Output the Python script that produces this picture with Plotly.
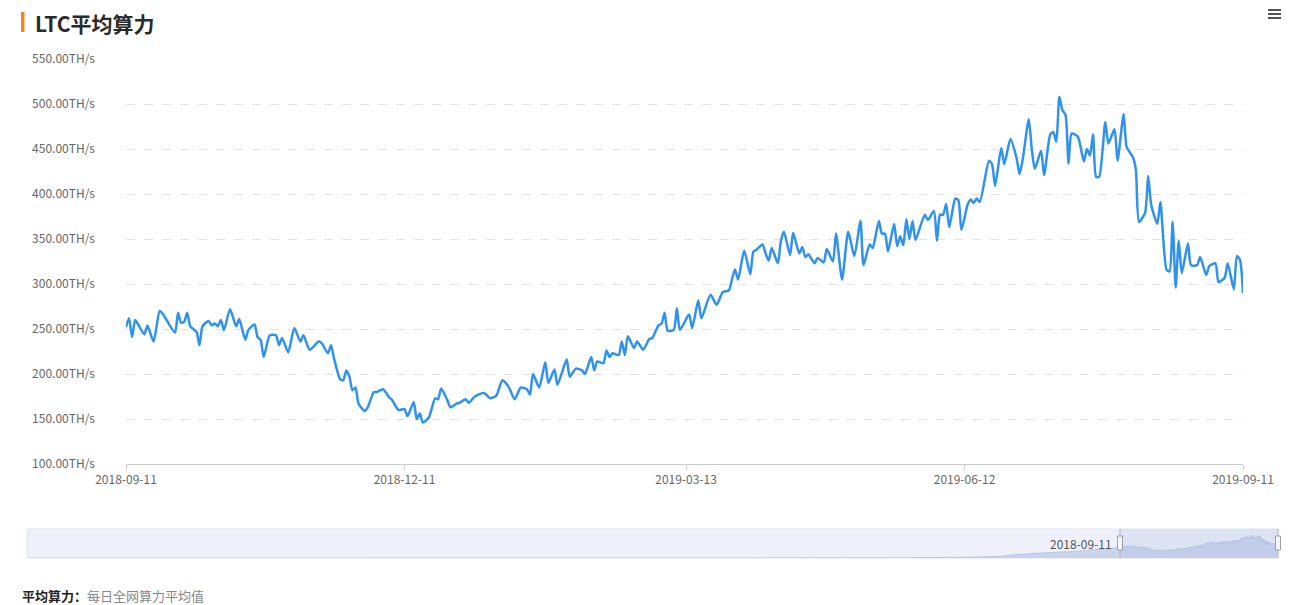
import pandas as pd
import plotly.graph_objects as go

# ---------------- data ----------------
START_DATE = "2018-09-11"
END_DATE = "2019-09-11"

day_offsets = [
    0, 1, 2, 3, 4, 6, 7, 9, 11, 12, 16, 17, 18, 19, 20, 21, 23, 24, 25, 27,
    28, 29, 30, 31, 32, 34, 36, 37, 39, 40, 42, 43, 44, 45, 47, 49, 50, 51, 53, 55,
    57, 58, 60, 63, 64, 66, 67, 68, 70, 71, 72, 73, 74, 75, 76, 78, 79, 81, 82, 84,
    86, 87, 89, 91, 92, 94, 95, 96, 97, 99, 101, 102, 103, 105, 106, 108, 109, 111, 112, 114,
    117, 119, 121, 123, 125, 127, 129, 131, 132, 133, 135, 137, 138, 140, 141, 144, 145, 147, 149, 150,
    152, 153, 154, 156, 157, 158, 159, 161, 162, 163, 164, 166, 167, 169, 171, 172, 174, 175, 176, 177,
    179, 180, 181, 184, 185, 187, 188, 191, 193, 195, 197, 198, 199, 200, 202, 204, 205, 206, 208, 209,
    210, 211, 213, 214, 215, 217, 218, 220, 221, 222, 223, 225, 226, 228, 229, 231, 232, 234, 236, 238,
    240, 241, 243, 244, 246, 247, 248, 249, 251, 252, 253, 254, 255, 256, 257, 258, 261, 262, 264, 265,
    266, 267, 268, 269, 271, 272, 273, 275, 276, 277, 278, 279, 282, 283, 284, 286, 287, 289, 291, 292,
    293, 295, 296, 297, 299, 300, 302, 303, 304, 305, 306, 307, 308, 309, 311, 313, 314, 315, 316, 317,
    318, 320, 321, 323, 324, 326, 327, 329, 330, 331, 333, 334, 335, 337, 338, 340, 341, 342, 343, 344,
    345, 347, 348, 350, 351, 353, 354, 356, 357, 359, 360, 362, 363, 364, 365,
]

hashrate_ths = [
    252, 262, 241, 260, 255, 244, 254, 236, 270, 267, 246, 268, 257, 258, 268, 253, 247, 232, 253, 259,
    254, 256, 253, 260, 249, 272, 253, 261, 238, 249, 255, 241, 238, 219, 243, 243, 232, 240, 224, 251,
    236, 243, 227, 236, 234, 223, 232, 217, 194, 193, 204, 197, 182, 185, 167, 159, 163, 180, 180, 183,
    174, 171, 160, 161, 153, 169, 150, 156, 146, 152, 173, 172, 184, 171, 163, 167, 168, 172, 168, 175,
    179, 173, 176, 193, 186, 172, 185, 183, 177, 200, 185, 213, 190, 205, 188, 216, 197, 206, 204, 200,
    219, 204, 214, 212, 226, 219, 223, 221, 236, 221, 242, 229, 236, 227, 239, 240, 254, 256, 268, 248,
    249, 273, 249, 266, 251, 282, 262, 288, 277, 291, 293, 305, 316, 305, 337, 311, 336, 338, 344, 334,
    326, 340, 323, 348, 358, 332, 357, 334, 341, 330, 333, 323, 329, 324, 339, 325, 356, 305, 358, 331,
    370, 321, 344, 340, 370, 356, 356, 336, 367, 342, 353, 343, 372, 350, 370, 349, 377, 371, 381, 348,
    377, 377, 389, 363, 395, 393, 360, 388, 394, 390, 395, 391, 437, 433, 409, 451, 433, 461, 440, 422,
    438, 483, 449, 428, 448, 421, 466, 469, 458, 508, 493, 488, 434, 467, 464, 436, 450, 443, 466, 419,
    419, 480, 456, 472, 437, 489, 452, 441, 427, 369, 379, 420, 388, 367, 391, 316, 314, 369, 296, 348,
    312, 345, 321, 321, 330, 310, 320, 323, 302, 307, 323, 294, 331, 327, 290,
]

# history shown only as the shadow inside the zoom slider (estimated)
history_dates = ["2011-10-13", "2013-01-01", "2014-01-01", "2015-01-01", "2016-01-01",
                 "2017-01-01", "2017-07-01", "2017-12-01", "2018-01-15", "2018-03-01",
                 "2018-04-15", "2018-06-01", "2018-07-15", "2018-09-10"]
history_values = [0, 0.2, 1, 2, 2, 4, 10, 35, 75, 105, 125, 150, 190, 235]

tick_dates = ["2018-09-11", "2018-12-11", "2019-03-13", "2019-06-12", "2019-09-11"]
y_ticks = [100, 150, 200, 250, 300, 350, 400, 450, 500, 550]
y_unit = "TH/s"

TITLE = "LTC平均算力"
SLIDER_LABEL = "2018-09-11"
FOOT_BOLD = "平均算力："
FOOT_TEXT = "每日全网算力平均值"

# ---------------- figure ----------------
W, H = 1293, 605
OFF = 8  # page body margin: figure is drawn 8px right and down of the page corner
FONT = "Noto Sans CJK SC, Microsoft YaHei, sans-serif"


def px_x(p):
    """page pixel x -> paper fraction"""
    return (p - OFF) / W


def px_y(p):
    """page pixel y (from top) -> paper fraction"""
    return (H - (p - OFF)) / H


dates = pd.Timestamp(START_DATE) + pd.to_timedelta(day_offsets, unit="D")

fig = go.Figure()

fig.add_trace(go.Scatter(
    x=dates, y=hashrate_ths, mode="lines",
    line=dict(color="#2e92ee", width=2.5, shape="spline", smoothing=0.6),
    xaxis="x", yaxis="y", hoverinfo="x+y", showlegend=False,
))

shadow_x = list(pd.to_datetime(history_dates)) + list(dates)
shadow_y = history_values + hashrate_ths
fig.add_trace(go.Scatter(
    x=shadow_x, y=shadow_y, mode="lines", fill="tozeroy",
    line=dict(color="rgba(150,170,215,0.55)", width=0.8, shape="spline", smoothing=0.6),
    fillcolor="rgba(160,178,222,0.45)",
    xaxis="x2", yaxis="y2", hoverinfo="skip", showlegend=False,
))

shapes = []
# slider background
shapes.append(dict(type="rect", xref="paper", yref="paper",
                   x0=px_x(27), x1=px_x(1278), y0=px_y(558), y1=px_y(529),
                   fillcolor="#eef1f9", line=dict(color="#dfe4ef", width=1), layer="below"))
# selected window
shapes.append(dict(type="rect", xref="paper", yref="paper",
                   x0=px_x(1120), x1=px_x(1278), y0=px_y(558), y1=px_y(529),
                   fillcolor="rgba(180,195,225,0.30)", line=dict(width=0), layer="below"))
for hx in (1120, 1278):
    shapes.append(dict(type="line", xref="paper", yref="paper",
                       x0=px_x(hx), x1=px_x(hx), y0=px_y(558), y1=px_y(529),
                       line=dict(color="#a9b2c2", width=1)))
    shapes.append(dict(type="rect", xref="paper", yref="paper",
                       x0=px_x(hx - 2.5), x1=px_x(hx + 2.5), y0=px_y(550), y1=px_y(536),
                       fillcolor="#f4f6fa", line=dict(color="#9aa0aa", width=1)))
# title accent bar
shapes.append(dict(type="rect", xref="paper", yref="paper",
                   x0=px_x(21), x1=px_x(24.5), y0=px_y(32), y1=px_y(12),
                   fillcolor="#f5841f", line=dict(width=0)))
# menu icon
for my in (10, 14, 18):
    shapes.append(dict(type="line", xref="paper", yref="paper",
                       x0=px_x(1268), x1=px_x(1281), y0=px_y(my), y1=px_y(my),
                       line=dict(color="#555555", width=2)))

annotations = [
    dict(text=f"<b>{TITLE}</b>", xref="paper", yref="paper",
         x=px_x(33), y=px_y(23), xanchor="left", yanchor="middle", showarrow=False,
         font=dict(family=FONT, size=21, color="#2a2a2a")),
    dict(text=SLIDER_LABEL, xref="paper", yref="paper",
         x=px_x(1114), y=px_y(543), xanchor="right", yanchor="middle", showarrow=False,
         font=dict(family=FONT, size=12, color="#555555")),
    dict(text=f"<b>{FOOT_BOLD}</b><span style='color:#888888'>{FOOT_TEXT}</span>",
         xref="paper", yref="paper",
         x=px_x(20), y=px_y(584), xanchor="left", yanchor="top", showarrow=False,
         font=dict(family=FONT, size=13, color="#222222")),
]

fig.update_layout(
    template="none",
    width=W, height=H, autosize=False,
    margin=dict(l=0, r=0, t=0, b=0, pad=0, autoexpand=False),
    paper_bgcolor="white", plot_bgcolor="white",
    font=dict(family=FONT, size=12, color="#666666"),
    showlegend=False,
    xaxis=dict(
        domain=[px_x(126), px_x(1243)],
        type="date",
        range=[START_DATE, END_DATE],
        tickmode="array", tickvals=tick_dates, ticktext=tick_dates,
        showgrid=False, zeroline=False, automargin=False,
        showline=True, linecolor="#cccccc", linewidth=1,
        ticks="outside", ticklen=5, tickcolor="#cccccc",
        tickfont=dict(family=FONT, size=12, color="#666666"),
        anchor="y", fixedrange=True,
    ),
    yaxis=dict(
        domain=[px_y(464), px_y(59)],
        range=[100, 550],
        tickmode="array", tickvals=y_ticks,
        ticktext=[f"{v:.2f}{y_unit}" for v in y_ticks],
        showgrid=True, gridcolor="#e3e3e3", griddash="dash", gridwidth=1,
        zeroline=False, showline=False, ticks="", automargin=False,
        ticklabelstandoff=30,
        tickfont=dict(family=FONT, size=12, color="#666666"),
        anchor="x", fixedrange=True,
    ),
    xaxis2=dict(
        domain=[px_x(28), px_x(1277)],
        type="date", range=[history_dates[0], END_DATE],
        visible=False, anchor="y2", fixedrange=True, automargin=False,
    ),
    yaxis2=dict(
        domain=[px_y(558), px_y(529)],
        range=[0, 640], visible=False, anchor="x2", fixedrange=True, automargin=False,
    ),
    shapes=shapes,
    annotations=annotations,
)

fig.write_html("out.html", config={"displayModeBar": False})
